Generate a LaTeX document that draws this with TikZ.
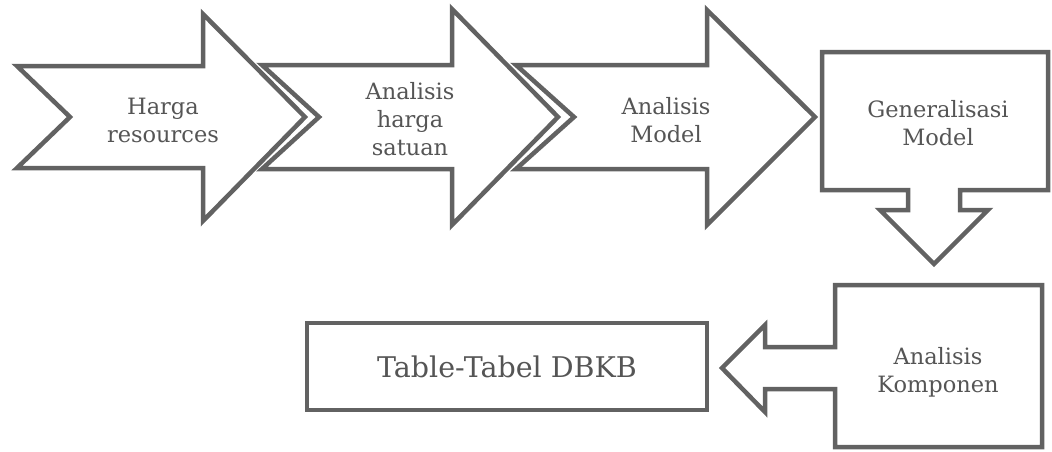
\documentclass[tikz,border=0pt]{standalone}
\usepackage{fontspec}
\setmainfont{DejaVu Serif}
\definecolor{strk}{RGB}{98,98,98}
\definecolor{txt}{RGB}{85,85,85}
\begin{document}
\begin{tikzpicture}[x=1pt,y=-1pt,
  shapeline/.style={draw=strk,line width=4.5pt,fill=white,line join=miter},
  lbl/.style={text=txt,align=center,font=\fontsize{22.5}{28}\selectfont,inner sep=0pt},
  biglbl/.style={text=txt,align=center,font=\fontsize{28.5}{30}\selectfont,inner sep=0pt}]
\useasboundingbox (0,0) rectangle (1052,451);
% arrow 1
\draw[shapeline] (17,66) -- (203,66) -- (203,14) -- (305,117) -- (203,221) -- (203,168) -- (17,168) -- (70,117) -- cycle;
% arrow 2
\draw[shapeline] (262,65) -- (452,65) -- (452,9) -- (558,117) -- (452,225) -- (452,169) -- (262,169) -- (319,117) -- cycle;
% arrow 3
\draw[shapeline] (516,65) -- (707,65) -- (707,10) -- (815,117) -- (707,225) -- (707,169) -- (516,169) -- (574,117) -- cycle;
% Generalisasi box with down arrow
\draw[shapeline] (822,52) -- (1048,52) -- (1048,190) -- (960,190) -- (960,210) -- (988,210) -- (934,264) -- (880,210) -- (908,210) -- (908,190) -- (822,190) -- cycle;
% Analisis Komponen box with left arrow
\draw[shapeline] (835,285) -- (1042,285) -- (1042,447) -- (835,447) -- (835,389) -- (765,389) -- (765,412) -- (722,368) -- (765,325) -- (765,347) -- (835,347) -- cycle;
% Table box
\draw[shapeline] (307,323) rectangle (707,410);
% labels
\node[lbl] (t1) at (163,120) {Harga\\resources};
\node[lbl] (t2) at (410,119) {Analisis\\harga\\satuan};
\node[lbl] (t3) at (666,120) {Analisis\\Model};
\node[lbl] (t4) at (938,123) {Generalisasi\\Model};
\node[lbl] (t5) at (938,372) {Analisis\\Komponen};
\node[biglbl] (t6) at (507,367) {Table-Tabel DBKB};
\end{tikzpicture}
\end{document}
